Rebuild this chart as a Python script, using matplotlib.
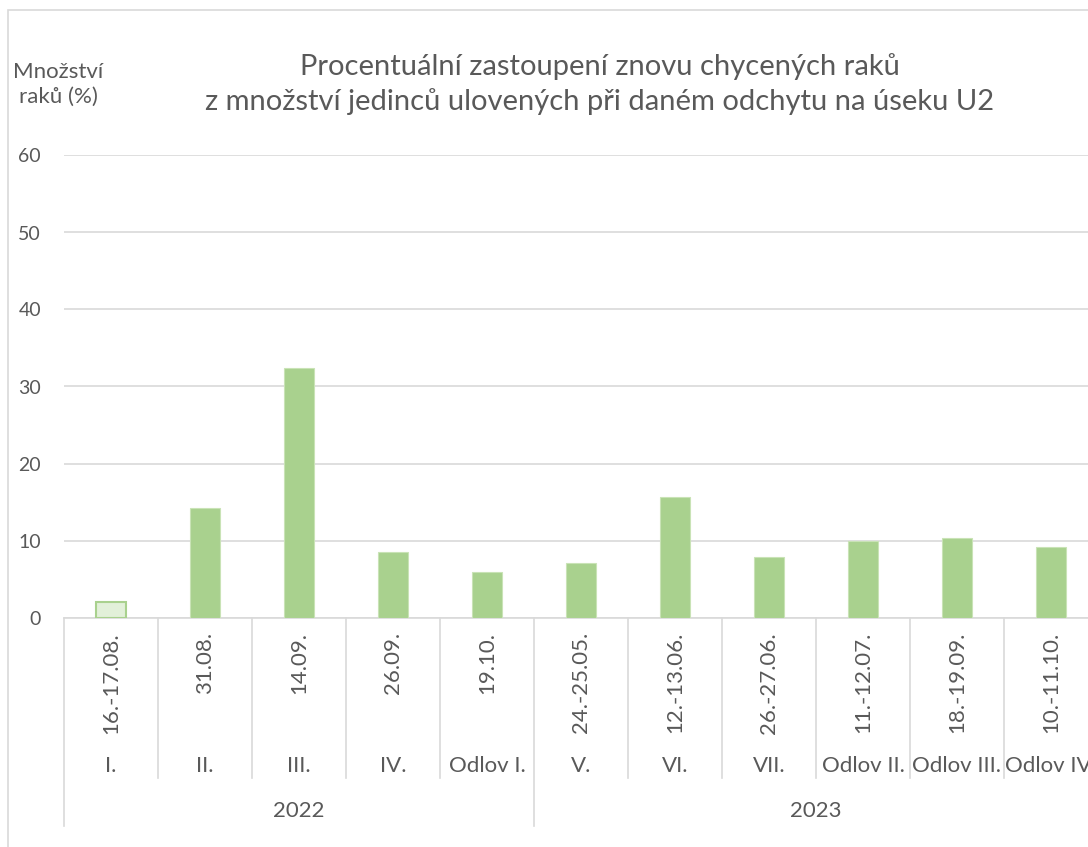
import matplotlib
matplotlib.use("Agg")
import matplotlib.pyplot as plt
from matplotlib.patches import Rectangle

plt.rcParams['font.family'] = ['Lato', 'DejaVu Sans']

dates = ["16.-17.08.", "31.08.", "14.09.", "26.09.", "19.10.",
         "24.-25.05.", "12.-13.06.", "26.-27.06.", "11.-12.07.", "18.-19.09.", "10.-11.10."]
catches = ["I.", "II.", "III.", "IV.", "Odlov I.", "V.", "VI.", "VII.",
           "Odlov II.", "Odlov III.", "Odlov IV."]
years = ["2022", "2023"]
year_sizes = [5, 6]
values = [2.0, 14.2, 32.4, 8.5, 5.9, 7.1, 15.6, 7.8, 9.9, 10.3, 9.1]
yticks = [0, 10, 20, 30, 40, 50, 60]

W, H = 1088, 847
fig = plt.figure(figsize=(W / 100, H / 100), dpi=100)
fig.patch.set_facecolor('white')

TXT = '#595959'
GRID = '#d9d9d9'
FS = 16

# chart-area frame (partly cut off at right/bottom)
fig.patches.append(Rectangle((8 / W, -0.1), 2.0, (H - 10) / H + 0.1,
                             transform=fig.transFigure, fill=False,
                             edgecolor='#d9d9d9', linewidth=1.2))

x0, x1 = 64, 1098
ytop, ybot = 155.5, 617.5
ax = fig.add_axes([x0 / W, (H - ybot) / H, (x1 - x0) / W, (ybot - ytop) / H])
ax.set_xlim(-0.5, len(values) - 0.5)
ax.set_ylim(0, 60)

n = len(values)
for i, v in enumerate(values):
    if i == 0:
        ax.bar(i, v, width=0.32, color='#e2f0d9', edgecolor='#a9d18e', linewidth=1.5, zorder=3)
    else:
        ax.bar(i, v, width=0.32, color='#a9d18e', edgecolor='#c9e3b6', linewidth=0.8, zorder=3)

ax.set_yticks(yticks)
ax.set_yticklabels([str(t) for t in yticks], fontsize=14, color=TXT)
ax.tick_params(axis='y', length=0, pad=16.5)
ax.grid(axis='y', color=GRID, linewidth=1.2, zorder=0)
ax.set_xticks([])
for s in ['left', 'right', 'top']:
    ax.spines[s].set_visible(False)
ax.spines['bottom'].set_color(GRID)
ax.spines['bottom'].set_linewidth(1.2)

ah = ybot - ytop
def ya(ypix):
    return -(ypix - ybot) / ah

tr = ax.get_xaxis_transform()
for i in range(n):
    ax.text(i, ya(632), dates[i], rotation=90, ha='center', va='top',
            fontsize=FS, color=TXT, transform=tr)
    ax.text(i, ya(766), catches[i], ha='center', va='center',
            fontsize=FS, color=TXT, transform=tr)

# separators
group_bounds = [0]
for s in year_sizes:
    group_bounds.append(group_bounds[-1] + s)
for k in range(n + 1):
    xb = k - 0.5
    y_end = 826 if k in group_bounds else 778
    ax.plot([xb, xb], [ya(618), ya(y_end)], color=GRID, linewidth=1.2,
            transform=tr, clip_on=False)

start = 0
for yr, s in zip(years, year_sizes):
    xc = start + (s - 1) / 2
    ax.text(xc, ya(811), yr, ha='center', va='center', fontsize=FS,
            color=TXT, transform=tr)
    start += s

fig.text(600 / W, 1 - 67 / H, "Procentuální zastoupení znovu chycených raků",
         ha='center', va='center', fontsize=21, color=TXT)
fig.text(600 / W, 1 - 102 / H, "z množství jedinců ulovených při daném odchytu na úseku U2",
         ha='center', va='center', fontsize=21, color=TXT)
fig.text(58 / W, 1 - 84 / H, "Množství\nraků (%)", ha='center', va='center',
         fontsize=FS, color=TXT, linespacing=1.3)

fig.savefig("out.png", dpi=100, facecolor='white')
